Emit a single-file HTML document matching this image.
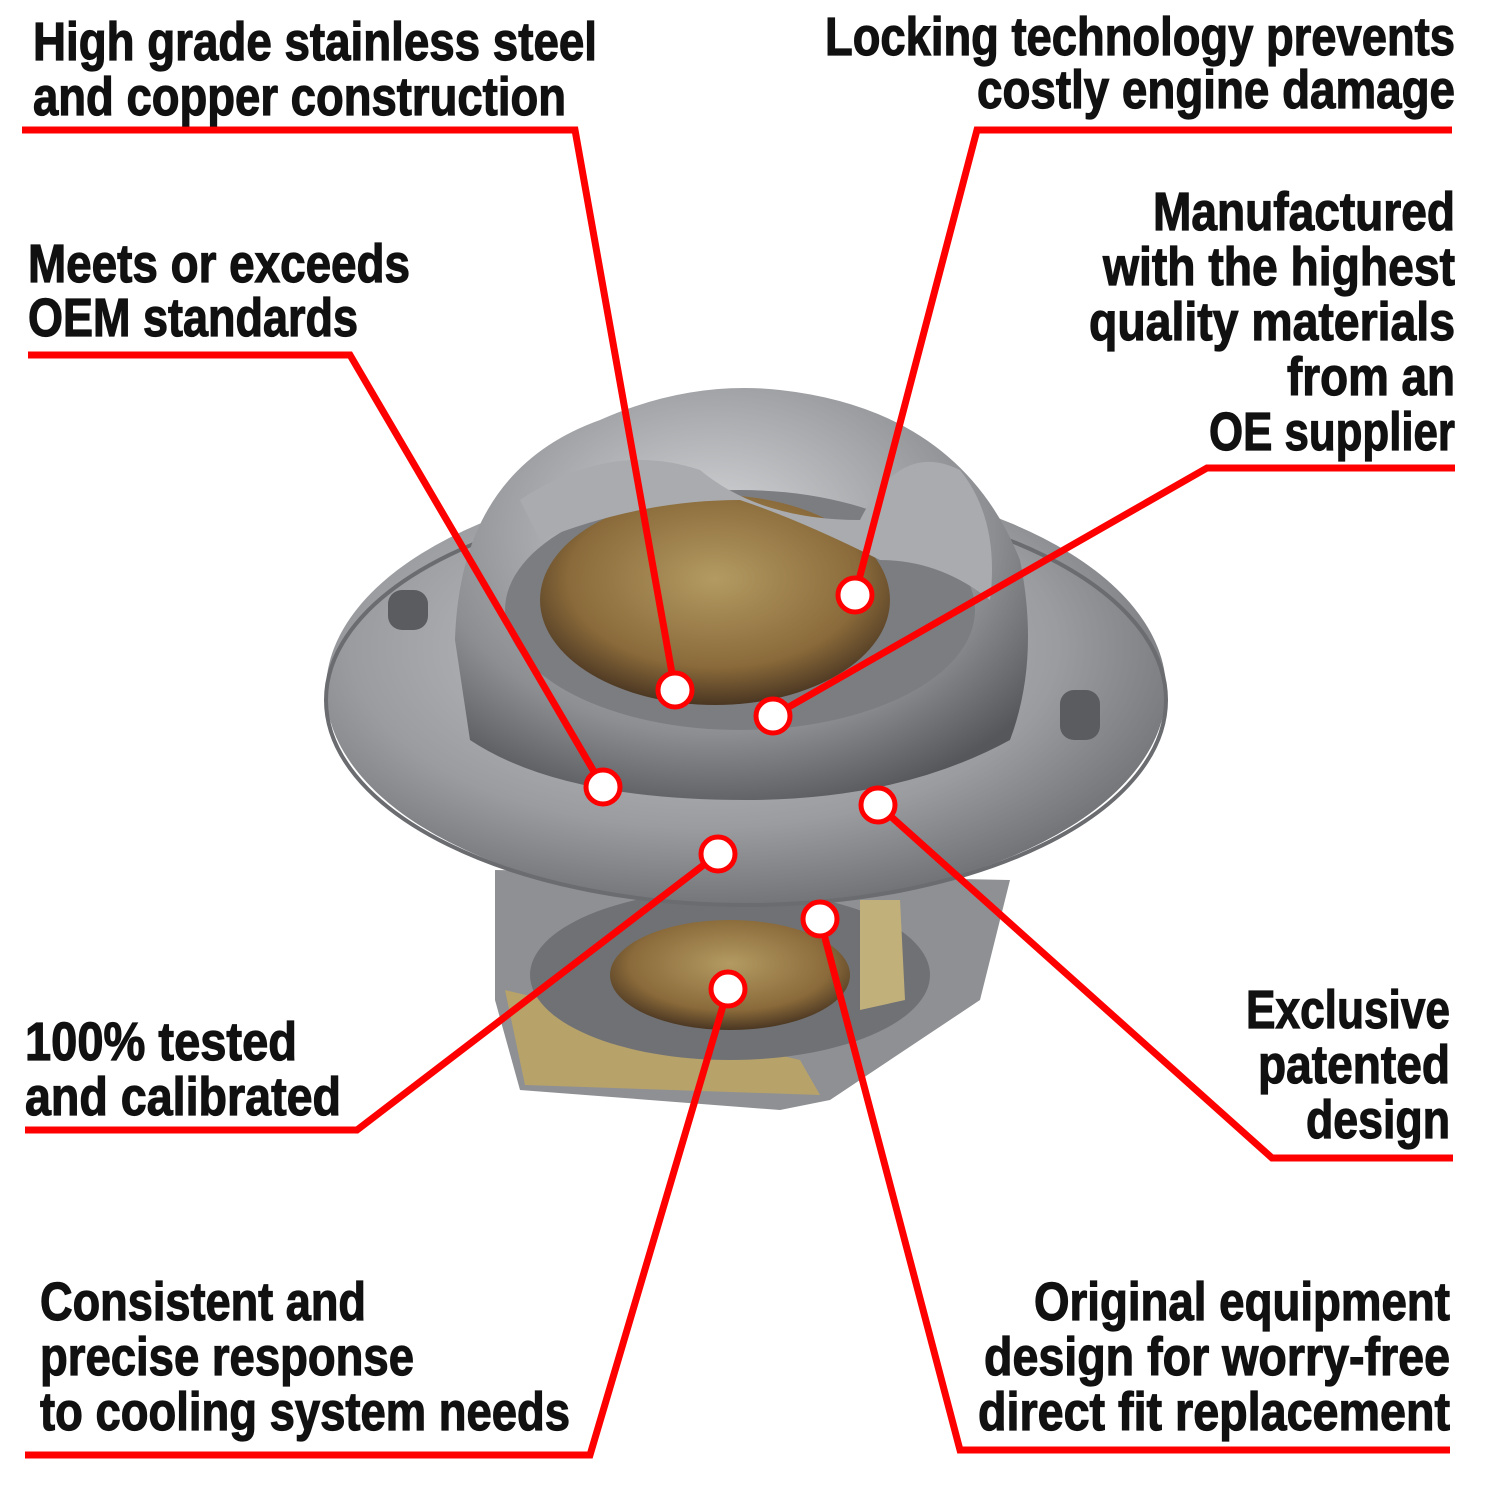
<!DOCTYPE html>
<html><head><meta charset="utf-8"><style>
html,body{margin:0;padding:0;background:#fff;}
text{font-family:"Liberation Sans Narrow","Liberation Sans",sans-serif;font-weight:bold;font-size:54px;fill:#111;stroke:#111;stroke-width:1.2px;}
</style></head><body>
<svg width="1500" height="1500" viewBox="0 0 1500 1500" xmlns="http://www.w3.org/2000/svg">
<defs>
<radialGradient id="steel" cx="0.45" cy="0.4" r="0.7">
<stop offset="0" stop-color="#c9cacc"/><stop offset="0.6" stop-color="#9a9ca0"/><stop offset="1" stop-color="#5e6064"/></radialGradient>
<radialGradient id="dome" cx="0.45" cy="0.35" r="0.7">
<stop offset="0" stop-color="#d5d6d8"/><stop offset="0.7" stop-color="#8c8e92"/><stop offset="1" stop-color="#55575b"/></radialGradient>
<radialGradient id="copper" cx="0.5" cy="0.4" r="0.6">
<stop offset="0" stop-color="#b39a62"/><stop offset="0.7" stop-color="#8a6a3a"/><stop offset="1" stop-color="#4a3622"/></radialGradient>
</defs>
<path d="M495 870 L495 1000 L520 1090 L780 1110 L830 1100 L980 1000 L1010 880 Z" fill="#8f9094"/>
<path d="M505 990 L800 1060 L820 1095 L525 1085 Z" fill="#b7a26a"/>
<ellipse cx="730" cy="975" rx="200" ry="85" fill="#6f7175"/>
<ellipse cx="730" cy="975" rx="120" ry="55" fill="url(#copper)"/>
<path d="M860 900 L900 900 L905 1000 L860 1010 Z" fill="#c2b07a"/>
<ellipse cx="746" cy="690" rx="420" ry="215" fill="url(#steel)"/>
<ellipse cx="746" cy="700" rx="420" ry="205" fill="none" stroke="#6a6c70" stroke-width="4"/>
<path d="M455 640 Q460 470 600 420 Q690 380 780 390 Q960 410 1020 560 Q1040 660 1010 740 Q900 800 746 800 Q560 800 470 740 Z" fill="url(#dome)"/>
<ellipse cx="740" cy="610" rx="235" ry="120" fill="#7b7d81"/>
<ellipse cx="715" cy="600" rx="175" ry="105" fill="url(#copper)"/>
<path d="M520 500 Q610 440 700 470 Q760 520 860 520 Q900 440 960 470 Q1000 520 990 600 Q940 560 880 560 Q800 520 740 500 Q640 500 540 540 Z" fill="#a9abaf"/>
<rect x="388" y="590" width="40" height="40" rx="14" fill="#5a5c60"/>
<rect x="1060" y="690" width="40" height="50" rx="14" fill="#5a5c60"/>
<g fill="none" stroke="#ff0000" stroke-width="7" stroke-linejoin="miter">
<polyline points="22,130 575,130 675,690"/>
<polyline points="1452,130 977,130 855,595"/>
<polyline points="28,355 350,355 603,787"/>
<polyline points="1455,468 1207,468 773,716"/>
<polyline points="25,1130 357,1130 718,854"/>
<polyline points="1453,1158 1272,1158 878,805"/>
<polyline points="25,1455 590,1455 728,989"/>
<polyline points="1450,1450 960,1450 820,919"/>
</g>
<g fill="#fff" stroke="#ff0000" stroke-width="5">
<circle cx="675" cy="690" r="17"/><circle cx="855" cy="595" r="17"/><circle cx="603" cy="787" r="17"/>
<circle cx="773" cy="716" r="17"/><circle cx="718" cy="854" r="17"/><circle cx="878" cy="805" r="17"/>
<circle cx="728" cy="989" r="17"/><circle cx="820" cy="919" r="17"/>
</g>
<text x="33" y="60" textLength="564" lengthAdjust="spacingAndGlyphs">High grade stainless steel</text>
<text x="33" y="115" textLength="533" lengthAdjust="spacingAndGlyphs">and copper construction</text>
<g text-anchor="end">
<text x="1455" y="55" textLength="630" lengthAdjust="spacingAndGlyphs">Locking technology prevents</text>
<text x="1455" y="108" textLength="478" lengthAdjust="spacingAndGlyphs">costly engine damage</text>
<text x="1455" y="230" textLength="302" lengthAdjust="spacingAndGlyphs">Manufactured</text>
<text x="1455" y="285" textLength="352" lengthAdjust="spacingAndGlyphs">with the highest</text>
<text x="1455" y="340" textLength="366" lengthAdjust="spacingAndGlyphs">quality materials</text>
<text x="1455" y="395" textLength="168" lengthAdjust="spacingAndGlyphs">from an</text>
<text x="1455" y="450" textLength="246" lengthAdjust="spacingAndGlyphs">OE supplier</text>
<text x="1450" y="1028" textLength="204" lengthAdjust="spacingAndGlyphs">Exclusive</text>
<text x="1450" y="1083" textLength="192" lengthAdjust="spacingAndGlyphs">patented</text>
<text x="1450" y="1138" textLength="144" lengthAdjust="spacingAndGlyphs">design</text>
<text x="1450" y="1320" textLength="416" lengthAdjust="spacingAndGlyphs">Original equipment</text>
<text x="1450" y="1375" textLength="466" lengthAdjust="spacingAndGlyphs">design for worry-free</text>
<text x="1450" y="1430" textLength="472" lengthAdjust="spacingAndGlyphs">direct fit replacement</text>
</g>
<text x="28" y="282" textLength="382" lengthAdjust="spacingAndGlyphs">Meets or exceeds</text>
<text x="28" y="336" textLength="330" lengthAdjust="spacingAndGlyphs">OEM standards</text>
<text x="25" y="1060" textLength="272" lengthAdjust="spacingAndGlyphs">100% tested</text>
<text x="25" y="1115" textLength="316" lengthAdjust="spacingAndGlyphs">and calibrated</text>
<text x="40" y="1320" textLength="326" lengthAdjust="spacingAndGlyphs">Consistent and</text>
<text x="40" y="1375" textLength="374" lengthAdjust="spacingAndGlyphs">precise response</text>
<text x="40" y="1430" textLength="530" lengthAdjust="spacingAndGlyphs">to cooling system needs</text>
</svg>
</body></html>
